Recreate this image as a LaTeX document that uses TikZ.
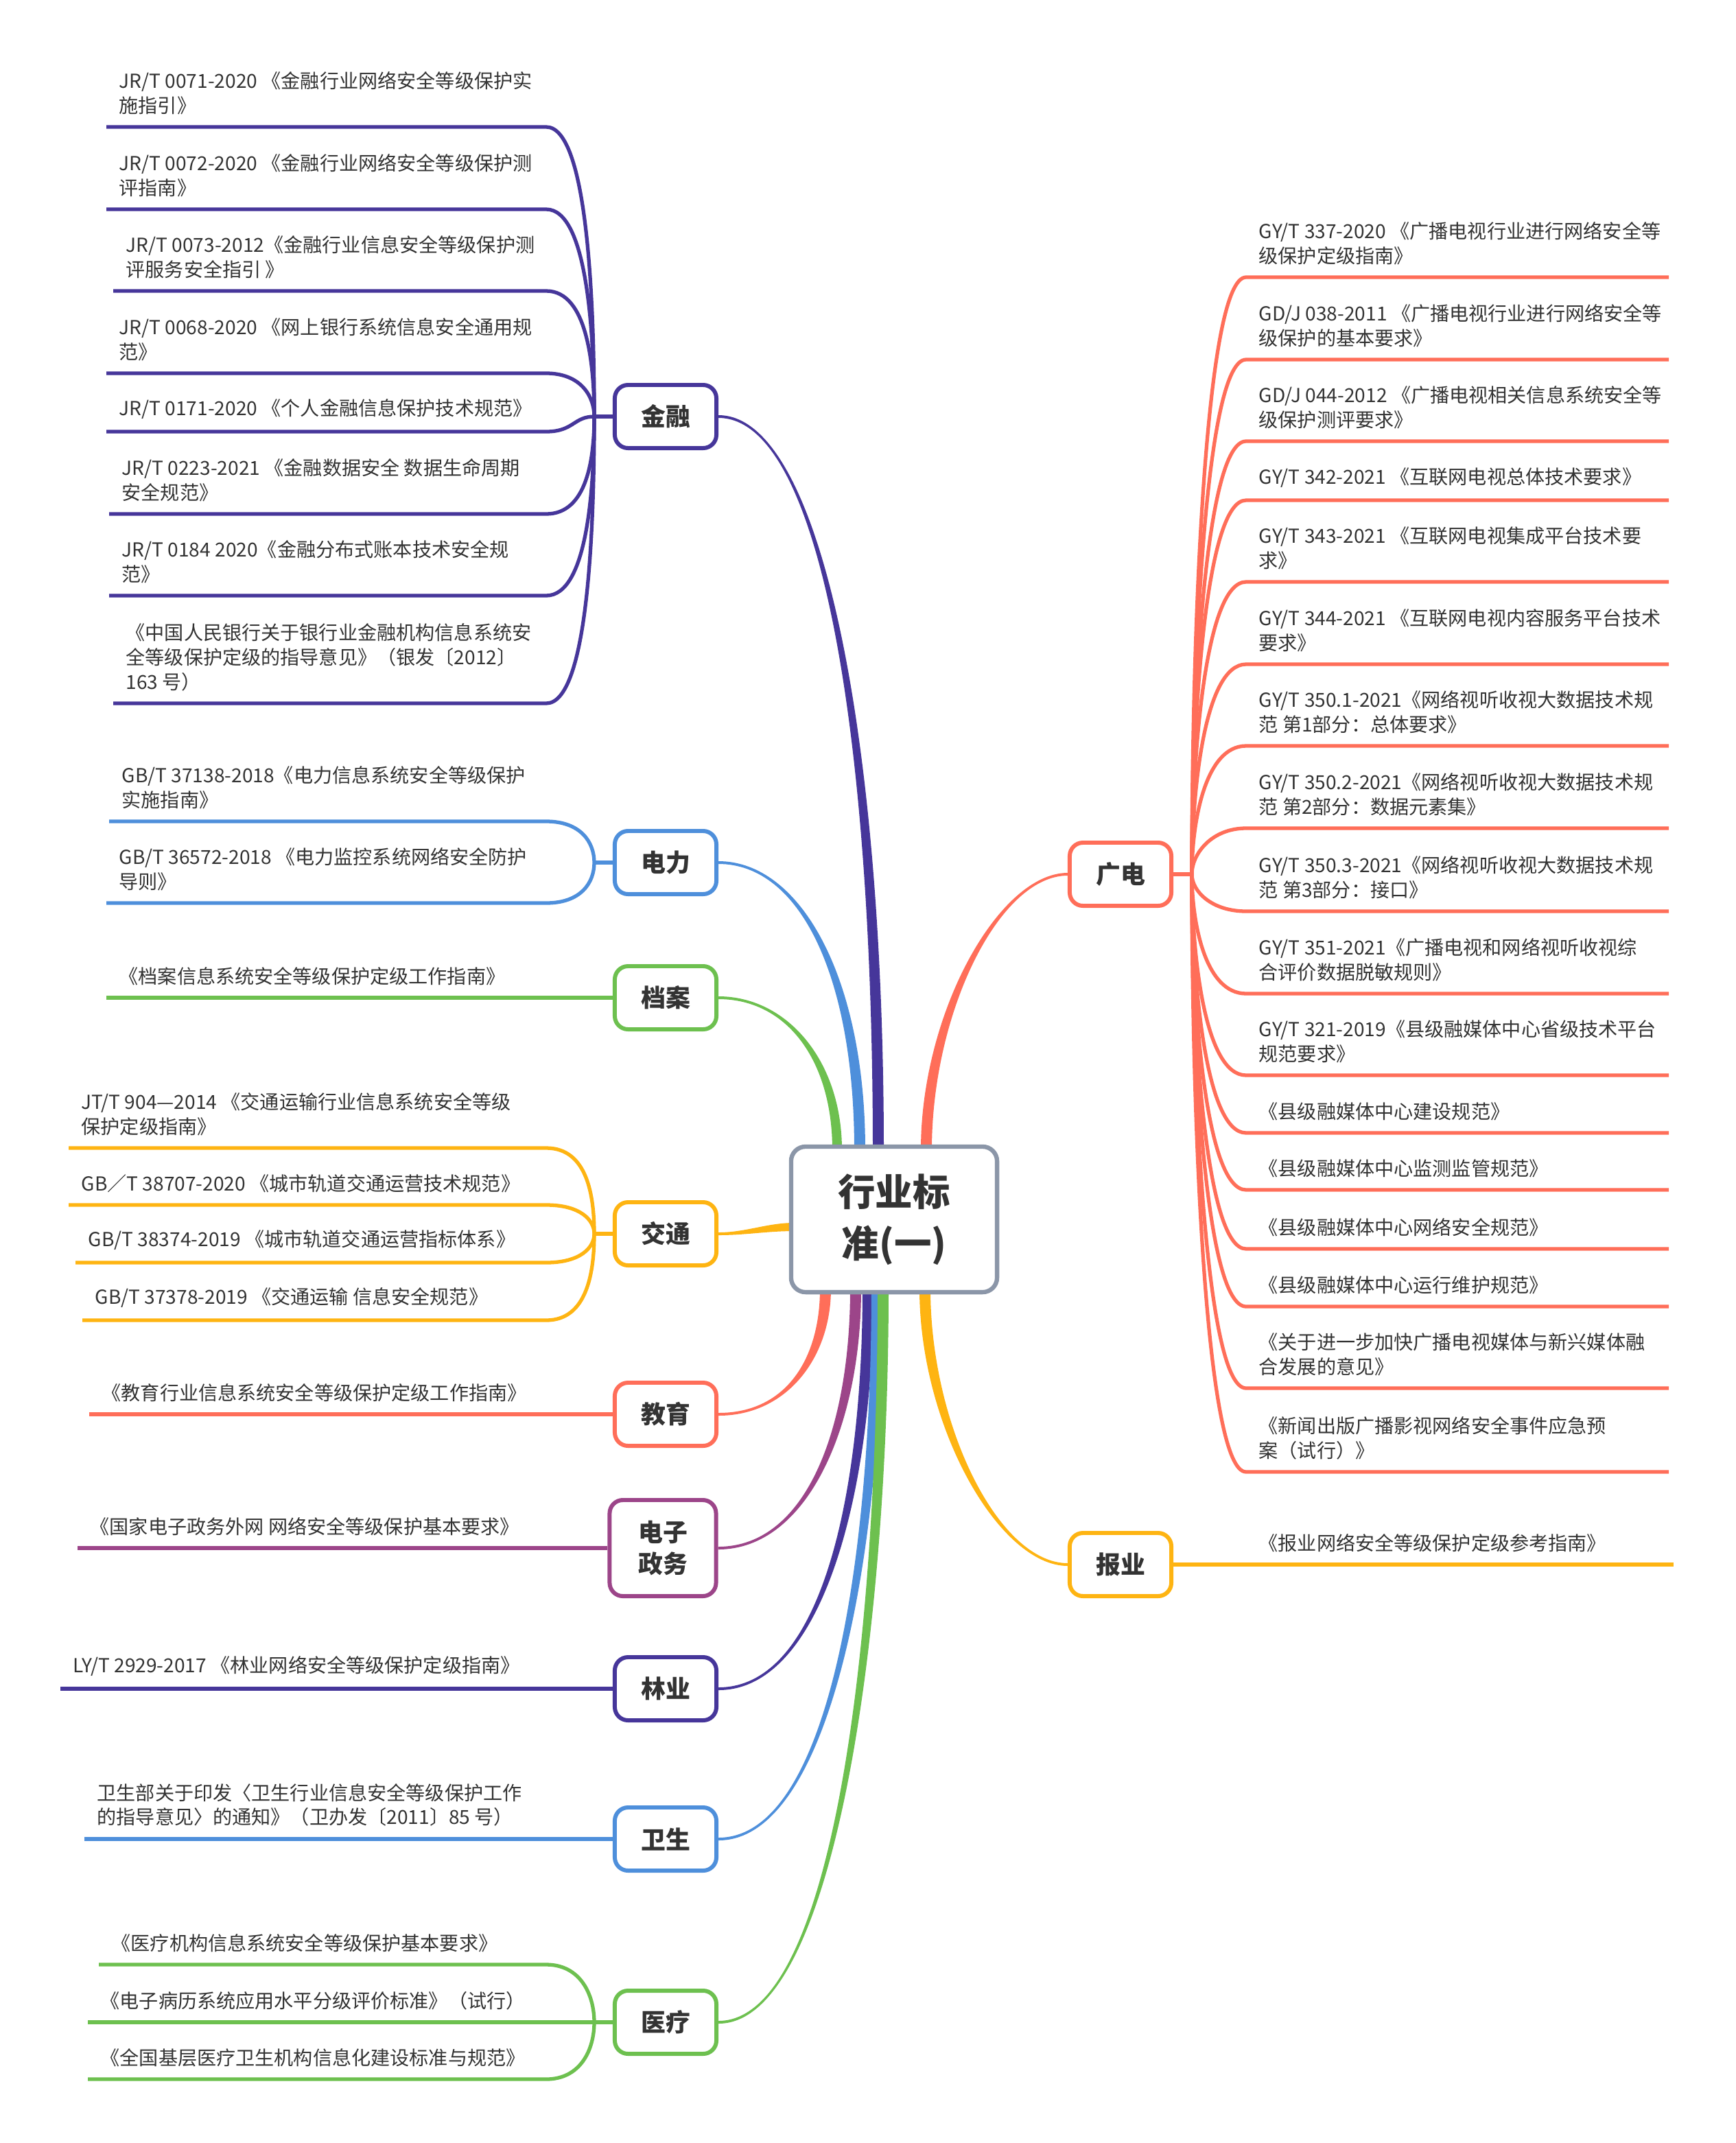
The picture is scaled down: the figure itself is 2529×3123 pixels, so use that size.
\documentclass[tikz,border=0pt]{standalone}
\usepackage{fontspec}
\setmainfont{Noto Sans CJK SC}
\usetikzlibrary{calc,backgrounds}

\definecolor{jrc}{RGB}{70,54,154}
\definecolor{dlc}{RGB}{78,143,219}
\definecolor{dac}{RGB}{109,192,79}
\definecolor{jtc}{RGB}{254,180,18}
\definecolor{jyc}{RGB}{255,110,89}
\definecolor{dzc}{RGB}{156,69,137}
\definecolor{hyc}{RGB}{139,150,168}
\definecolor{textc}{RGB}{51,51,51}

\newcommand\leaffont{\fontsize{8pt}{10.2pt}\selectfont}
\newcommand\branchfont{\fontsize{10.2pt}{13pt}\selectfont\bfseries}
\newcommand\rootfont{\fontsize{15.5pt}{21.2pt}\selectfont\bfseries}
\newcommand\trunk[6]{%
  \fill[#1] ($(#2)+(0,-2)$) .. controls +#5 and +#6 .. ($(#3)+#4$)
    -- ($(#3)-#4$) .. controls +#6 and +#5 .. ($(#2)+(0,2)$) -- cycle;}

\begin{document}
\begin{tikzpicture}[
  x=0.01cm, y=-0.01cm,
  leaf/.style={anchor=south west,align=left,inner xsep=5.1pt,inner ysep=5pt,font=\leaffont,text=textc},
  branch/.style={draw=#1,line width=1.7pt,rounded corners=5.5pt,fill=white,minimum width=1.48cm,minimum height=0.92cm,font=\branchfont,text=textc,align=center},
  root/.style={draw=hyc,line width=1.8pt,rounded corners=6pt,fill=white,minimum width=3cm,minimum height=2.12cm,font=\rootfont,text=textc,align=center},
  link/.style={draw=#1,line width=1.5pt}
]
  \useasboundingbox (0,0) rectangle (2529,3123);

  \node[root] (hy) at (1303,1777) {行业标\\准(一)};
  \node[branch=jrc] (jr) at (970,607) {金融};
  \node[branch=dlc] (dl) at (970,1257) {电力};
  \node[branch=dac] (da) at (970,1454) {档案};
  \node[branch=jtc] (jt) at (970,1798) {交通};
  \node[branch=jyc] (jy) at (970,2061) {教育};
  \node[branch=dzc,minimum width=1.55cm,minimum height=1.4cm] (dz) at (966,2256) {电子\\政务};
  \node[branch=jrc] (ly) at (970,2461) {林业};
  \node[branch=dlc] (ws) at (970,2680) {卫生};
  \node[branch=dac] (yl) at (970,2947) {医疗};
  \node[branch=jyc] (gd) at (1633,1274) {广电};
  \node[branch=jtc] (by) at (1633,2280) {报业};

  \coordinate (tjr) at ($(hy.north)+(-23,8)$);
  \coordinate (tdl) at ($(hy.north)+(-50,8)$);
  \coordinate (tda) at ($(hy.north)+(-83,8)$);
  \coordinate (tjt) at ($(hy.west)+(8,11)$);
  \coordinate (tjy) at ($(hy.south)+(-100,-8)$);
  \coordinate (tdz) at ($(hy.south)+(-56,-8)$);
  \coordinate (tly) at ($(hy.south)+(-38,-8)$);
  \coordinate (tws) at ($(hy.south)+(-25,-8)$);
  \coordinate (tyl) at ($(hy.south)+(-16,-8)$);
  \coordinate (tgd) at ($(hy.north)+(47,8)$);
  \coordinate (tby) at ($(hy.south)+(45,-8)$);

  \begin{scope}[on background layer]
    \trunk{dac}{da.east}{tda}{(7,0)}{(100,0)}{(0,-130)}
    \trunk{dlc}{dl.east}{tdl}{(8,0)}{(120,0)}{(0,-250)}
    \trunk{jrc}{jr.east}{tjr}{(8,0)}{(150,0)}{(0,-600)}
    \trunk{jyc}{gd.west}{tgd}{(-8,0)}{(-100,0)}{(0,-200)}
    \trunk{jtc}{jt.east}{tjt}{(0,-6)}{(40,0)}{(-40,0)}
    \trunk{jyc}{jy.east}{tjy}{(-8,0)}{(100,0)}{(0,100)}
    \trunk{dzc}{dz.east}{tdz}{(-8,0)}{(130,0)}{(0,200)}
    \trunk{jrc}{ly.east}{tly}{(-8,0)}{(150,0)}{(0,300)}
    \trunk{dlc}{ws.east}{tws}{(-8,0)}{(160,0)}{(0,400)}
    \trunk{dac}{yl.east}{tyl}{(-8,0)}{(170,0)}{(0,500)}
    \trunk{jtc}{by.west}{tby}{(8,0)}{(-100,0)}{(0,200)}
  \end{scope}

  \coordinate (jrhub) at (866,607);
  \coordinate (jrend) at (796,607);
  \coordinate (dlhub) at (866,1257);
  \coordinate (dlend) at (796,1257);
  \coordinate (jthub) at (866,1798);
  \coordinate (jtend) at (796,1798);
  \coordinate (ylhub) at (866,2947);
  \coordinate (ylend) at (796,2947);
  \coordinate (gdhub) at (1737,1274);
  \coordinate (gdend) at (2432,1274);
  \coordinate (byend) at (2439,2280);

  \node[leaf] (jr1) at (155,185) {JR/T 0071-2020 《金融行业网络安全等级保护实\\施指引》};
  \node[leaf] (jr2) at (155,305) {JR/T 0072-2020 《金融行业网络安全等级保护测\\评指南》};
  \node[leaf] (jr3) at (165,424) {JR/T 0073-2012《金融行业信息安全等级保护测\\评服务安全指引 》};
  \node[leaf] (jr4) at (155,544) {JR/T 0068-2020 《网上银行系统信息安全通用规\\范》};
  \node[leaf] (jr5) at (155,629) {JR/T 0171-2020 《个人金融信息保护技术规范》};
  \node[leaf] (jr6) at (159,749) {JR/T 0223-2021 《金融数据安全 数据生命周期\\安全规范》};
  \node[leaf] (jr7) at (159,868) {JR/T 0184 2020《金融分布式账本技术安全规\\范》};
  \node[leaf] (jr8) at (165,1025) {《中国人民银行关于银行业金融机构信息系统安\\全等级保护定级的指导意见》（银发〔2012〕\\163 号）};
  \node[leaf] (dl1) at (159,1197) {GB/T 37138-2018《电力信息系统安全等级保护\\实施指南》};
  \node[leaf] (dl2) at (155,1316) {GB/T 36572-2018 《电力监控系统网络安全防护\\导则》};
  \node[leaf] (da1) at (155,1454) {《档案信息系统安全等级保护定级工作指南》};
  \node[leaf] (jt1) at (100,1673) {JT/T 904—2014 《交通运输行业信息系统安全等级\\保护定级指南》};
  \node[leaf] (jt2) at (100,1756) {GB／T 38707-2020 《城市轨道交通运营技术规范》};
  \node[leaf] (jt3) at (110,1840) {GB/T 38374-2019 《城市轨道交通运营指标体系》};
  \node[leaf] (jt4) at (120,1924) {GB/T 37378-2019 《交通运输 信息安全规范》};
  \node[leaf] (jy1) at (130,2061) {《教育行业信息系统安全等级保护定级工作指南》};
  \node[leaf] (dz1) at (113,2256) {《国家电子政务外网 网络安全等级保护基本要求》};
  \node[leaf] (ly1) at (88,2461) {LY/T 2929-2017 《林业网络安全等级保护定级指南》};
  \node[leaf] (ws1) at (123,2680) {卫生部关于印发〈卫生行业信息安全等级保护工作\\的指导意见〉的通知》（卫办发〔2011〕85 号）};
  \node[leaf] (yl1) at (144,2863) {《医疗机构信息系统安全等级保护基本要求》};
  \node[leaf] (yl2) at (128,2947) {《电子病历系统应用水平分级评价标准》（试行）};
  \node[leaf] (yl3) at (128,3030) {《全国基层医疗卫生机构信息化建设标准与规范》};

  \node[leaf] (gd1) at (1816,404) {GY/T 337-2020 《广播电视行业进行网络安全等\\级保护定级指南》};
  \node[leaf] (gd2) at (1816,524) {GD/J 038-2011 《广播电视行业进行网络安全等\\级保护的基本要求》};
  \node[leaf] (gd3) at (1816,643) {GD/J 044-2012 《广播电视相关信息系统安全等\\级保护测评要求》};
  \node[leaf] (gd4) at (1816,729) {GY/T 342-2021 《互联网电视总体技术要求》};
  \node[leaf] (gd5) at (1816,848) {GY/T 343-2021 《互联网电视集成平台技术要\\求》};
  \node[leaf] (gd6) at (1816,968) {GY/T 344-2021 《互联网电视内容服务平台技术\\要求》};
  \node[leaf] (gd7) at (1816,1087) {GY/T 350.1-2021《网络视听收视大数据技术规\\范 第1部分：总体要求》};
  \node[leaf] (gd8) at (1816,1207) {GY/T 350.2-2021《网络视听收视大数据技术规\\范 第2部分：数据元素集》};
  \node[leaf] (gd9) at (1816,1328) {GY/T 350.3-2021《网络视听收视大数据技术规\\范 第3部分：接口》};
  \node[leaf] (gd10) at (1816,1448) {GY/T 351-2021《广播电视和网络视听收视综\\合评价数据脱敏规则》};
  \node[leaf] (gd11) at (1816,1567) {GY/T 321-2019《县级融媒体中心省级技术平台\\规范要求》};
  \node[leaf] (gd12) at (1816,1651) {《县级融媒体中心建设规范》};
  \node[leaf] (gd13) at (1816,1734) {《县级融媒体中心监测监管规范》};
  \node[leaf] (gd14) at (1816,1820) {《县级融媒体中心网络安全规范》};
  \node[leaf] (gd15) at (1816,1904) {《县级融媒体中心运行维护规范》};
  \node[leaf] (gd16) at (1816,2023) {《关于进一步加快广播电视媒体与新兴媒体融\\合发展的意见》};
  \node[leaf] (gd17) at (1816,2145) {《新闻出版广播影视网络安全事件应急预\\案（试行）》};
  \node[leaf] (by1) at (1816,2280) {《报业网络安全等级保护定级参考指南》};

  \draw[link=jrc] (jr1.south west) -- (jr1.south west -| jrend) .. controls +(60,0) and +(0,-170) .. (jrhub);
  \draw[link=jrc] (jr2.south west) -- (jr2.south west -| jrend) .. controls +(60,0) and +(0,-120) .. (jrhub);
  \draw[link=jrc] (jr3.south west) -- (jr3.south west -| jrend) .. controls +(60,0) and +(0,-75) .. (jrhub);
  \draw[link=jrc] (jr4.south west) -- (jr4.south west -| jrend) .. controls +(50,0) and +(0,-30) .. (jrhub);
  \draw[link=jrc] (jr5.south west) -- (jr5.south west -| jrend) .. controls +(40,0) and +(-30,0) .. (jrhub);
  \draw[link=jrc] (jr6.south west) -- (jr6.south west -| jrend) .. controls +(60,0) and +(0,60) .. (jrhub);
  \draw[link=jrc] (jr7.south west) -- (jr7.south west -| jrend) .. controls +(60,0) and +(0,105) .. (jrhub);
  \draw[link=jrc] (jr8.south west) -- (jr8.south west -| jrend) .. controls +(60,0) and +(0,170) .. (jrhub);
  \draw[link=jrc] (jrhub) -- (jr.west);
  \draw[link=dlc] (dl1.south west) -- (dl1.south west -| dlend) .. controls +(50,0) and +(0,-30) .. (dlhub);
  \draw[link=dlc] (dl2.south west) -- (dl2.south west -| dlend) .. controls +(50,0) and +(0,30) .. (dlhub);
  \draw[link=dlc] (dlhub) -- (dl.west);
  \draw[link=dac] (da1.south west) -- (da.west);
  \draw[link=jtc] (jt1.south west) -- (jt1.south west -| jtend) .. controls +(60,0) and +(0,-55) .. (jthub);
  \draw[link=jtc] (jt2.south west) -- (jt2.south west -| jtend) .. controls +(50,0) and +(0,-20) .. (jthub);
  \draw[link=jtc] (jt3.south west) -- (jt3.south west -| jtend) .. controls +(50,0) and +(0,20) .. (jthub);
  \draw[link=jtc] (jt4.south west) -- (jt4.south west -| jtend) .. controls +(60,0) and +(0,55) .. (jthub);
  \draw[link=jtc] (jthub) -- (jt.west);
  \draw[link=jyc] (jy1.south west) -- (jy.west);
  \draw[link=dzc] (dz1.south west) -- (dz.west);
  \draw[link=jrc] (ly1.south west) -- (ly.west);
  \draw[link=dlc] (ws1.south west) -- (ws.west);
  \draw[link=dac] (yl1.south west) -- (yl1.south west -| ylend) .. controls +(50,0) and +(0,-40) .. (ylhub);
  \draw[link=dac] (yl2.south west) -- (yl.west);
  \draw[link=dac] (yl3.south west) -- (yl3.south west -| ylend) .. controls +(50,0) and +(0,40) .. (ylhub);
  \draw[link=dac] (ylhub) -- (yl.west);

  \draw[link=jyc] (gd1.south west -| gdend) -- (gd1.south west) .. controls +(-60,0) and +(0,-350) .. (gdhub);
  \draw[link=jyc] (gd2.south west -| gdend) -- (gd2.south west) .. controls +(-60,0) and +(0,-300) .. (gdhub);
  \draw[link=jyc] (gd3.south west -| gdend) -- (gd3.south west) .. controls +(-60,0) and +(0,-250) .. (gdhub);
  \draw[link=jyc] (gd4.south west -| gdend) -- (gd4.south west) .. controls +(-60,0) and +(0,-220) .. (gdhub);
  \draw[link=jyc] (gd5.south west -| gdend) -- (gd5.south west) .. controls +(-60,0) and +(0,-170) .. (gdhub);
  \draw[link=jyc] (gd6.south west -| gdend) -- (gd6.south west) .. controls +(-60,0) and +(0,-125) .. (gdhub);
  \draw[link=jyc] (gd7.south west -| gdend) -- (gd7.south west) .. controls +(-60,0) and +(0,-75) .. (gdhub);
  \draw[link=jyc] (gd8.south west -| gdend) -- (gd8.south west) .. controls +(-50,0) and +(0,-30) .. (gdhub);
  \draw[link=jyc] (gd9.south west -| gdend) -- (gd9.south west) .. controls +(-50,0) and +(0,25) .. (gdhub);
  \draw[link=jyc] (gd10.south west -| gdend) -- (gd10.south west) .. controls +(-60,0) and +(0,70) .. (gdhub);
  \draw[link=jyc] (gd11.south west -| gdend) -- (gd11.south west) .. controls +(-60,0) and +(0,120) .. (gdhub);
  \draw[link=jyc] (gd12.south west -| gdend) -- (gd12.south west) .. controls +(-60,0) and +(0,150) .. (gdhub);
  \draw[link=jyc] (gd13.south west -| gdend) -- (gd13.south west) .. controls +(-60,0) and +(0,185) .. (gdhub);
  \draw[link=jyc] (gd14.south west -| gdend) -- (gd14.south west) .. controls +(-60,0) and +(0,220) .. (gdhub);
  \draw[link=jyc] (gd15.south west -| gdend) -- (gd15.south west) .. controls +(-60,0) and +(0,250) .. (gdhub);
  \draw[link=jyc] (gd16.south west -| gdend) -- (gd16.south west) .. controls +(-60,0) and +(0,300) .. (gdhub);
  \draw[link=jyc] (gd17.south west -| gdend) -- (gd17.south west) .. controls +(-60,0) and +(0,350) .. (gdhub);
  \draw[link=jyc] (gdhub) -- (gd.east);
  \draw[link=jtc] (by.east) -- (by1.south west) -- (byend);
\end{tikzpicture}
\end{document}
